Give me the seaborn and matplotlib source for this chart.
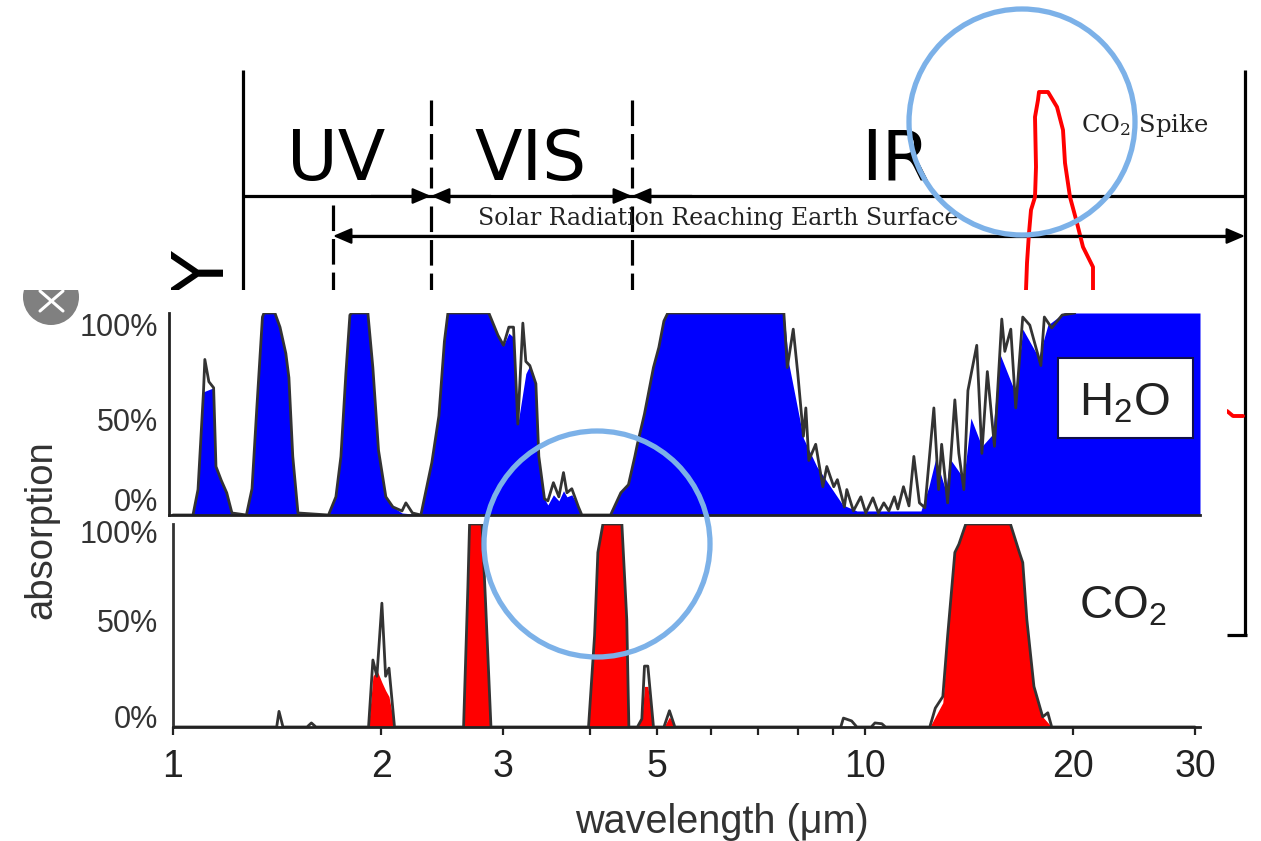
import matplotlib
matplotlib.use('Agg')
import matplotlib.pyplot as plt
from matplotlib.patches import Circle, Rectangle
import pandas as pd
import seaborn as sns

sns.set_style('white')
plt.rcParams['font.family'] = ['Liberation Sans', 'DejaVu Sans']
plt.rcParams['mathtext.fontset'] = 'custom'
plt.rcParams['mathtext.rm'] = 'Liberation Sans'
plt.rcParams['mathtext.default'] = 'regular'

# H2O absorption, dark outline
h2o_wl = [1.0, 1.069, 1.087, 1.107, 1.112, 1.127, 1.145, 1.154, 1.175, 1.196, 1.217, 1.277, 1.301, 1.322,
          1.347, 1.354, 1.404, 1.428, 1.456, 1.471, 1.490, 1.516, 1.678, 1.720, 1.749, 1.778, 1.802, 1.814,
          1.913, 1.945, 1.982, 2.031, 2.079, 2.143, 2.171, 2.219, 2.282, 2.367, 2.423, 2.468, 2.497, 2.861,
          2.949, 3.004, 3.058, 3.106, 3.151, 3.204, 3.236, 3.279, 3.346, 3.379, 3.443, 3.482, 3.547, 3.612,
          3.668, 3.71, 3.771, 3.855, 3.899, 4.29, 4.439, 4.553, 4.651, 4.69, 4.802, 4.948, 5.038, 5.123,
          5.19, 7.637, 7.724, 7.879, 7.999, 8.15, 8.216, 8.298, 8.49, 8.694, 8.81, 9.016, 9.125, 9.34,
          9.416, 9.625, 9.865, 10.03, 10.27, 10.46, 10.65, 10.83, 11.03, 11.16, 11.37, 11.58, 11.77, 11.99,
          12.21, 12.58, 12.78, 12.91, 13.17, 13.49, 13.67, 13.9, 14.09, 14.51, 14.76, 15.03, 15.39, 15.77,
          15.93, 16.25, 16.52, 16.91, 17.31, 17.96, 18.17, 18.62, 19.28, 20.11]
h2o_pct = [0, 0, 12.6, 61, 77, 66, 63, 24, 17, 11, 1, 0, 13, 53,
           98, 100, 100, 93, 80, 68, 29, 1, 0, 9, 29, 70, 99, 100,
           100, 73, 32, 9, 4, 2, 6, 1, 0, 26, 49, 86, 100, 100,
           89, 84, 93, 93, 45, 95, 76, 74, 65, 29, 8, 7, 16, 9,
           21, 11, 13, 4, 0, 0, 11, 15, 29, 35, 50, 73, 83, 96,
           100, 100, 73, 92, 70, 39, 53, 27, 35, 14, 24, 14, 17.5, 4,
           12.6, 2, 9, 1, 8.5, 1, 6, 2, 9, 3, 14, 4.5, 29, 6,
           3.6, 53, 12.6, 35, 6, 57, 30.5, 12.6, 61.6, 84, 30.5, 71, 34, 97,
           81, 92, 53, 98, 94, 74, 98, 92.6, 99, 100]

# H2O absorption, blue fill (sits under the spikes of the outline)
h2o_fill_wl = [1.0, 1.069, 1.087, 1.107, 1.145, 1.154, 1.175, 1.196, 1.217, 1.277, 1.301, 1.322, 1.347, 1.354,
               1.404, 1.428, 1.456, 1.471, 1.490, 1.516, 1.678, 1.720, 1.749, 1.778, 1.802, 1.814, 1.913,
               1.945, 1.982, 2.031, 2.079, 2.143, 2.219, 2.282, 2.367, 2.423, 2.468, 2.497, 2.861, 2.949,
               3.004, 3.058, 3.106, 3.151, 3.236, 3.279, 3.346, 3.379, 3.443, 3.482, 3.547, 3.612, 3.668,
               3.71, 3.771, 3.855, 3.899, 4.29, 4.439, 4.553, 4.651, 4.802, 4.948, 5.038, 5.123, 5.19, 7.637,
               7.762, 8.15, 8.522, 9.29, 9.735, 12.05, 12.37, 12.66, 13.09, 13.26, 13.9, 14.23, 14.76, 15.30,
               15.66, 16.52, 16.91, 17.83, 18.38, 19.38, 30.5]
h2o_fill_pct = [0, 0, 12.6, 61, 63, 24, 17, 11, 1, 0, 13, 53, 98, 100,
                100, 93, 80, 68, 29, 1, 0, 9, 29, 70, 99, 100, 100,
                73, 32, 9, 4, 1, 0.5, 0, 26, 49, 86, 100, 100, 89,
                84, 90, 88, 45, 70, 74, 65, 29, 8, 5, 10, 7, 12,
                9, 10, 4, 0, 0, 11, 15, 29, 50, 73, 83, 96, 100, 100,
                75, 38, 24, 5, 2, 2, 14, 28, 12, 28, 18, 48, 34, 40,
                80, 60, 92, 78, 94, 100, 100]

# CO2 absorption, dark outline
co2_wl = [1.0, 1.412, 1.423, 1.442, 1.562, 1.585, 1.609, 1.917, 1.945, 1.971, 2.004, 2.029, 2.052, 2.09,
          2.63, 2.668, 2.683, 2.796, 2.83, 2.881, 3.986, 4.067, 4.112, 4.182, 4.454, 4.527, 4.559, 4.69,
          4.76, 4.802, 4.856, 4.948, 5.123, 5.218, 5.313, 9.228, 9.31, 9.567, 9.735, 10.21, 10.34, 10.58,
          10.71, 12.41, 12.64, 12.96, 13.17, 13.49, 13.67, 13.99, 16.23, 16.72, 16.91, 17.14, 17.55, 18.07,
          18.38, 18.62, 30.0]
co2_pct = [0, 0, 7.7, 0, 0, 2, 0, 0, 33, 25, 61, 25, 29, 0,
           0, 69, 100, 100, 61, 0, 0, 45, 86, 100, 100, 53, 0, 0,
           4, 30, 30, 0, 0, 8, 0, 0, 4.4, 3, 0, 0, 2, 1.6,
           0, 0, 9.3, 15, 45, 86, 90, 100, 100, 86, 81, 53, 20, 5,
           7, 0, 0]

# CO2 absorption, red fill
co2_fill_wl = [1.917, 1.945, 1.971, 2.004, 2.029, 2.052, 2.09, 2.63, 2.668, 2.683, 2.796, 2.83, 2.881, 3.986,
               4.067, 4.112, 4.182, 4.454, 4.527, 4.559, 4.69, 4.76, 4.802, 4.856, 4.948, 5.123, 5.218, 5.313,
               12.41, 12.96, 13.17, 13.49, 13.67, 13.99, 16.23, 16.72, 16.91, 17.14, 17.55, 18.07, 18.62]
co2_fill_pct = [0, 25, 28, 22, 18, 15, 0, 0, 69, 100, 100, 61, 0, 0,
                45, 86, 100, 100, 53, 0, 0, 4, 20, 20, 0, 0, 5, 0,
                0, 12, 45, 86, 90, 100, 100, 86, 81, 53, 20, 5, 0]

# red spike of the diagram behind the panels
spike_x = [1026, 1027, 1029, 1031, 1035, 1036, 1035, 1038, 1039, 1048, 1057, 1063, 1065, 1070, 1077, 1083, 1093, 1093]
spike_y = [290, 263, 233, 210, 197, 167, 117, 100, 92, 92, 107, 130, 163, 197, 223, 247, 267, 290]
stub_x = [1227, 1233, 1243]
stub_y = [411, 416, 416]

band_labels = ['UV', 'VIS', 'IR']
pct_labels = ['0%', '50%', '100%']
pct_ticks = [0, 50, 100]
major_ticks = [1, 2, 3, 5, 10, 20, 30]
minor_ticks = [4, 6, 7, 8, 9]

W, H = 1261, 841
fig = plt.figure(figsize=(W / 100, H / 100), dpi=100, facecolor='white')


def pixel_axes(zorder):
    ax = fig.add_axes([0, 0, 1, 1], zorder=zorder)
    ax.set_xlim(0, W)
    ax.set_ylim(H, 0)
    ax.axis('off')
    return ax


def panel_axes(left, top, right, bottom, xmin):
    ax = fig.add_axes([left / W, 1 - bottom / H, (right - left) / W, (bottom - top) / H], zorder=2)
    ax.set_xscale('log')
    ax.set_xlim(xmin, 30.5)
    ax.set_ylim(0, 100)
    ax.set_facecolor('none')
    return ax


def pct_text(ax, shifts):
    ax.set_yticks([])
    for v, lab, s in zip(pct_ticks, pct_labels, shifts):
        ax.annotate(lab, xy=(0, v), xycoords=('figure fraction', 'data'),
                    xytext=(158 * 0.72, s * 0.72), textcoords='offset points',
                    ha='right', va='center', fontsize=22, color='#333333')


# diagram behind the panels
bg = pixel_axes(0)
black = dict(color='black', lw=2.3, solid_capstyle='butt')
dash = dict(color='black', lw=2.3, linestyle=(0, (8, 2.5)))
bg.plot([243, 243], [70, 300], **black)
bg.plot([1245, 1245], [70, 635], **black)
bg.plot([1227, 1247], [635, 635], **black)
bg.plot([243, 1245], [196, 196], **black)
bg.plot([340, 1235], [236, 236], **black)
bg.plot([431, 431], [100, 188], **dash)
bg.plot([632, 632], [100, 188], **dash)
bg.plot([431, 431], [206, 300], **dash)
bg.plot([632, 632], [206, 300], **dash)
bg.plot([333, 333], [205, 300], **dash)

head = dict(arrowstyle='-|>,head_length=0.7,head_width=0.3', color='black', lw=1.6, shrinkA=0, shrinkB=0, mutation_scale=16)
for tip in [431, 632]:
    bg.annotate('', xy=(tip, 196), xytext=(tip - 60, 196), arrowprops=head)
    bg.annotate('', xy=(tip, 196), xytext=(tip + 60, 196), arrowprops=head)
bg.annotate('', xy=(333, 236), xytext=(700, 236), arrowprops=head)
bg.annotate('', xy=(1245, 236), xytext=(700, 236), arrowprops=head)

for lab, cx in zip(band_labels, [336, 531, 896]):
    bg.text(cx, 160, lab, family='DejaVu Sans', fontsize=50, ha='center', va='center', color='black')
bg.text(718, 218, 'Solar Radiation Reaching Earth Surface', family='DejaVu Serif', fontsize=17,
        ha='center', va='center', color='#222222')
bg.text(1081, 125, r'CO$_2$ Spike', family='DejaVu Serif', fontsize=17.5, ha='left', va='center', color='#222222')
bg.text(197, 242, 'ENERGY', family='DejaVu Sans', fontsize=52, rotation=90, ha='center', va='top', color='black')
sns.lineplot(x=spike_x, y=spike_y, color='#ff0000', lw=2.8, estimator=None, sort=False, ax=bg)
bg.add_patch(Rectangle((0, 290), 1227, H - 290, facecolor='white', edgecolor='none', zorder=5))
sns.lineplot(x=stub_x, y=stub_y, color='#ff0000', lw=2.8, estimator=None, sort=False, ax=bg)

# close button, cut off by the pasted image edge
clip = Rectangle((0, 290), 200, 100, transform=bg.transData)
btn = Circle((51, 297), 28, facecolor='#808080', edgecolor='none', zorder=6)
bg.add_patch(btn)
btn.set_clip_path(clip)
bg.plot([40, 63], [291, 311], color='white', lw=2.2, zorder=7)
bg.plot([40, 63], [311, 291], color='white', lw=2.2, zorder=7)

# H2O panel
top = panel_axes(169, 313, 1200, 515, 0.987)
top.fill_between(h2o_fill_wl, h2o_fill_pct, 0, color='#0000ff', lw=0)
sns.lineplot(x=h2o_wl, y=h2o_pct, color='#333333', lw=2, estimator=None, ax=top)
top.set_xticks([])
top.set_xticks([], minor=True)
sns.despine(ax=top, right=True)
for side in ['top', 'left', 'bottom']:
    top.spines[side].set_color('#222222')
    top.spines[side].set_linewidth(2)
pct_text(top, [12, -9, -15])

# CO2 panel
low = panel_axes(173, 524, 1200, 727, 1.0)
low.fill_between(co2_fill_wl, co2_fill_pct, 0, color='#ff0000', lw=0)
sns.lineplot(x=co2_wl, y=co2_pct, color='#333333', lw=2, estimator=None, ax=low)
sns.despine(ax=low, right=True)
low.spines['top'].set_color('#6a6a6a')
low.spines['top'].set_linewidth(3)
low.spines['left'].set_color('#333333')
low.spines['left'].set_linewidth(2)
low.spines['bottom'].set_color('#222222')
low.spines['bottom'].set_linewidth(2)
low.set_xticks(major_ticks, [str(t) for t in major_ticks])
low.set_xticks(minor_ticks, minor=True)
low.set_xticklabels([], minor=True)
low.tick_params(axis='x', which='both', bottom=True, length=6, width=1.6, color='#222222')
low.tick_params(axis='x', which='major', labelsize=27, labelcolor='#222222', pad=10)
pct_text(low, [7, 1, -11])

# text and circles on top of everything
fg = pixel_axes(3)
fg.add_patch(Rectangle((1058, 358), 135, 80, facecolor='white', edgecolor='#10104a', lw=1.5))
fg.text(1124, 403, r'H$_2$O', fontsize=34, ha='center', va='center', color='#222222')
fg.text(1123, 607, r'CO$_2$', fontsize=33, ha='center', va='center', color='#222222')
fg.text(41, 530, 'absorption', fontsize=27.5, rotation=90, ha='center', va='center', color='#333333')
fg.text(722, 822, 'wavelength (\u03bcm)', fontsize=28.5, ha='center', va='center', color='#333333')
for cx, cy in [(1022, 122), (597, 544)]:
    fg.add_patch(Circle((cx, cy), 113, facecolor='none', edgecolor='#7cb1e8', lw=3.8))

fig.savefig('out.png', dpi=100)
